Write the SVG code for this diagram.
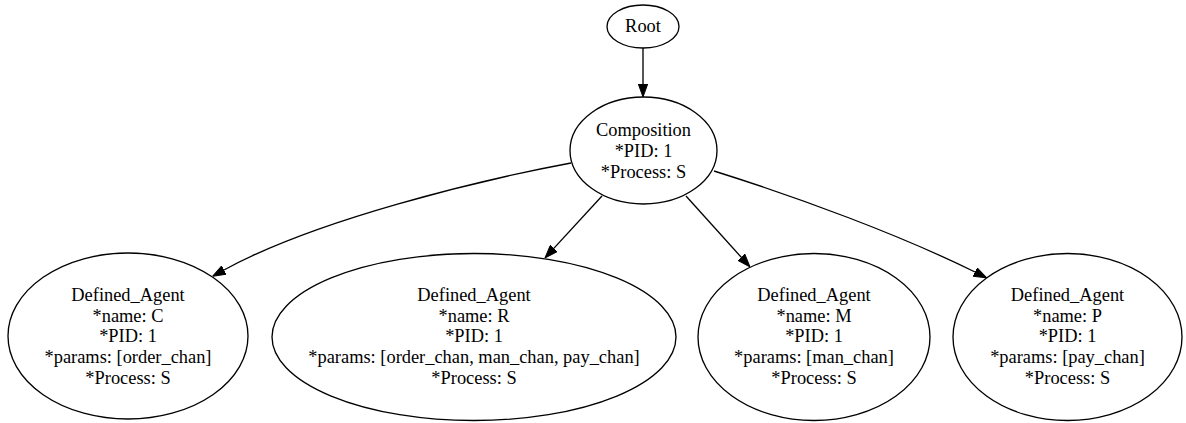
<svg xmlns="http://www.w3.org/2000/svg" width="1186" height="423" viewBox="0 0 1186 423">
<style>
.n ellipse{fill:none;stroke:#000;stroke-width:1.33}
.n text{font-family:"Liberation Serif","Times New Roman",serif;font-size:18.4px;fill:#000;text-anchor:middle}
.e path{fill:none;stroke:#000;stroke-width:1.33;marker-end:url(#ah)}
</style>
<defs>
<marker id="ah" viewBox="0 0 13 10" refX="0" refY="5" markerWidth="13" markerHeight="10" markerUnits="userSpaceOnUse" orient="auto">
<path d="M0,0.3 L13,5 L0,9.7 z" fill="#000" stroke="#000" stroke-width="1"/>
</marker>
</defs>
<rect width="1186" height="423" fill="#fff"/>
<g id="edges" class="e">
<path d="M643,48 L643,84"/>
<path d="M571,163 C480,180 315,220 224,270"/>
<path d="M602,196 L553.8,248.4"/>
<path d="M686,196 L741.3,257.3"/>
<path d="M714,171 C800,198 900,235 975,272"/>
</g>
<g id="root" class="n">
<ellipse cx="643" cy="26.5" rx="36" ry="21.5"/>
<text x="643" y="32">Root</text>
</g>
<g id="composition" class="n">
<ellipse cx="643.5" cy="150.5" rx="73.5" ry="53.5"/>
<text x="643.5" y="136">Composition</text>
<text x="643.5" y="156.8">*PID: 1</text>
<text x="643.5" y="177.6">*Process: S</text>
</g>
<g id="agentC" class="n">
<ellipse cx="128" cy="336" rx="120" ry="83"/>
<text x="128" y="300.7">Defined_Agent</text>
<text x="128" y="321.5">*name: C</text>
<text x="128" y="342.3">*PID: 1</text>
<text x="128" y="363.1">*params: [order_chan]</text>
<text x="128" y="383.9">*Process: S</text>
</g>
<g id="agentR" class="n">
<ellipse cx="474" cy="337" rx="202" ry="83.5"/>
<text x="474" y="300.7">Defined_Agent</text>
<text x="474" y="321.5">*name: R</text>
<text x="474" y="342.3">*PID: 1</text>
<text x="474" y="363.1">*params: [order_chan, man_chan, pay_chan]</text>
<text x="474" y="383.9">*Process: S</text>
</g>
<g id="agentM" class="n">
<ellipse cx="814" cy="337" rx="116" ry="83.5"/>
<text x="814" y="300.7">Defined_Agent</text>
<text x="814" y="321.5">*name: M</text>
<text x="814" y="342.3">*PID: 1</text>
<text x="814" y="363.1">*params: [man_chan]</text>
<text x="814" y="383.9">*Process: S</text>
</g>
<g id="agentP" class="n">
<ellipse cx="1067.5" cy="337" rx="114.5" ry="83.5"/>
<text x="1067.5" y="300.7">Defined_Agent</text>
<text x="1067.5" y="321.5">*name: P</text>
<text x="1067.5" y="342.3">*PID: 1</text>
<text x="1067.5" y="363.1">*params: [pay_chan]</text>
<text x="1067.5" y="383.9">*Process: S</text>
</g>
</svg>
